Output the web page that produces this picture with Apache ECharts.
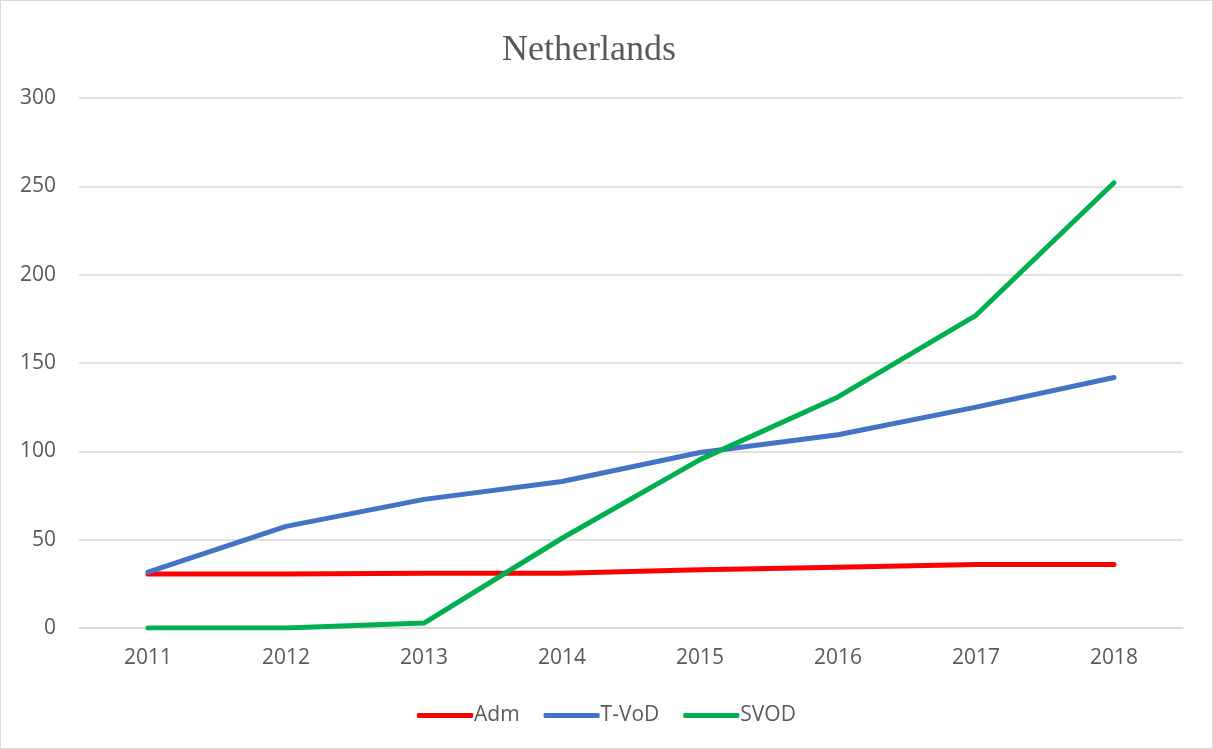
<!DOCTYPE html>
<html><head><meta charset="utf-8">
<script src="https://cdn.jsdelivr.net/npm/echarts@6/dist/echarts.min.js"></script>
<style>html,body{margin:0;padding:0;background:#fff}#c{width:1213px;height:749px;box-sizing:border-box;border:1px solid #d9d9d9}</style>
</head><body><div id="c"></div>
<script>
const categories = ['2011','2012','2013','2014','2015','2016','2017','2018'];
const adm = [30.5, 30.5, 31, 31, 33, 34.4, 36, 36];
const tvod = [31.6, 57.5, 72.8, 82.9, 99.3, 109.4, 125, 141.8];
const svod = [0, 0, 2.8, 50.8, 95.3, 130.8, 177, 252];
const seriesNames = ['Adm', 'T-VoD', 'SVOD'];
const colors = ['#ff0000', '#4472c4', '#00b050'];

const chart = echarts.init(document.getElementById('c'));
const font = "'Open Sans', 'Noto Sans', sans-serif";
chart.setOption({
  animation: false,
  title: {text: 'Netherlands', left: 496, top: 27,
    textStyle: {fontFamily: "'Liberation Serif', serif", fontSize: 36, fontWeight: 'normal', color: '#595959'}},
  legend: {top: 699, left: 'center', itemWidth: 56, itemHeight: 5, itemGap: 24,
    icon: 'roundRect',
    textStyle: {fontFamily: font, fontSize: 21, color: '#595959', padding: [0,0,0,-4]},
    data: seriesNames},
  grid: {left: 78, right: 29, top: 97, bottom: 120, containLabel: false},
  xAxis: {type: 'category', data: categories, boundaryGap: true,
    axisLine: {lineStyle: {color: '#d9d9d9', width: 1.5}}, axisTick: {show: false},
    axisLabel: {color: '#595959', fontFamily: font, fontSize: 21, margin: 20}},
  yAxis: {type: 'value', min: 0, max: 300, interval: 50,
    axisLine: {show: false}, axisTick: {show: false},
    splitLine: {lineStyle: {color: '#d9d9d9', width: 1.5}},
    axisLabel: {color: '#595959', fontFamily: font, fontSize: 21, margin: 23}},
  series: [adm, tvod, svod].map((d, i) => ({
    name: seriesNames[i], type: 'line', data: d, symbol: 'none',
    lineStyle: {color: colors[i], width: 5, cap: 'round', join: 'round'},
    itemStyle: {color: colors[i]}
  }))
});
</script></body></html>
